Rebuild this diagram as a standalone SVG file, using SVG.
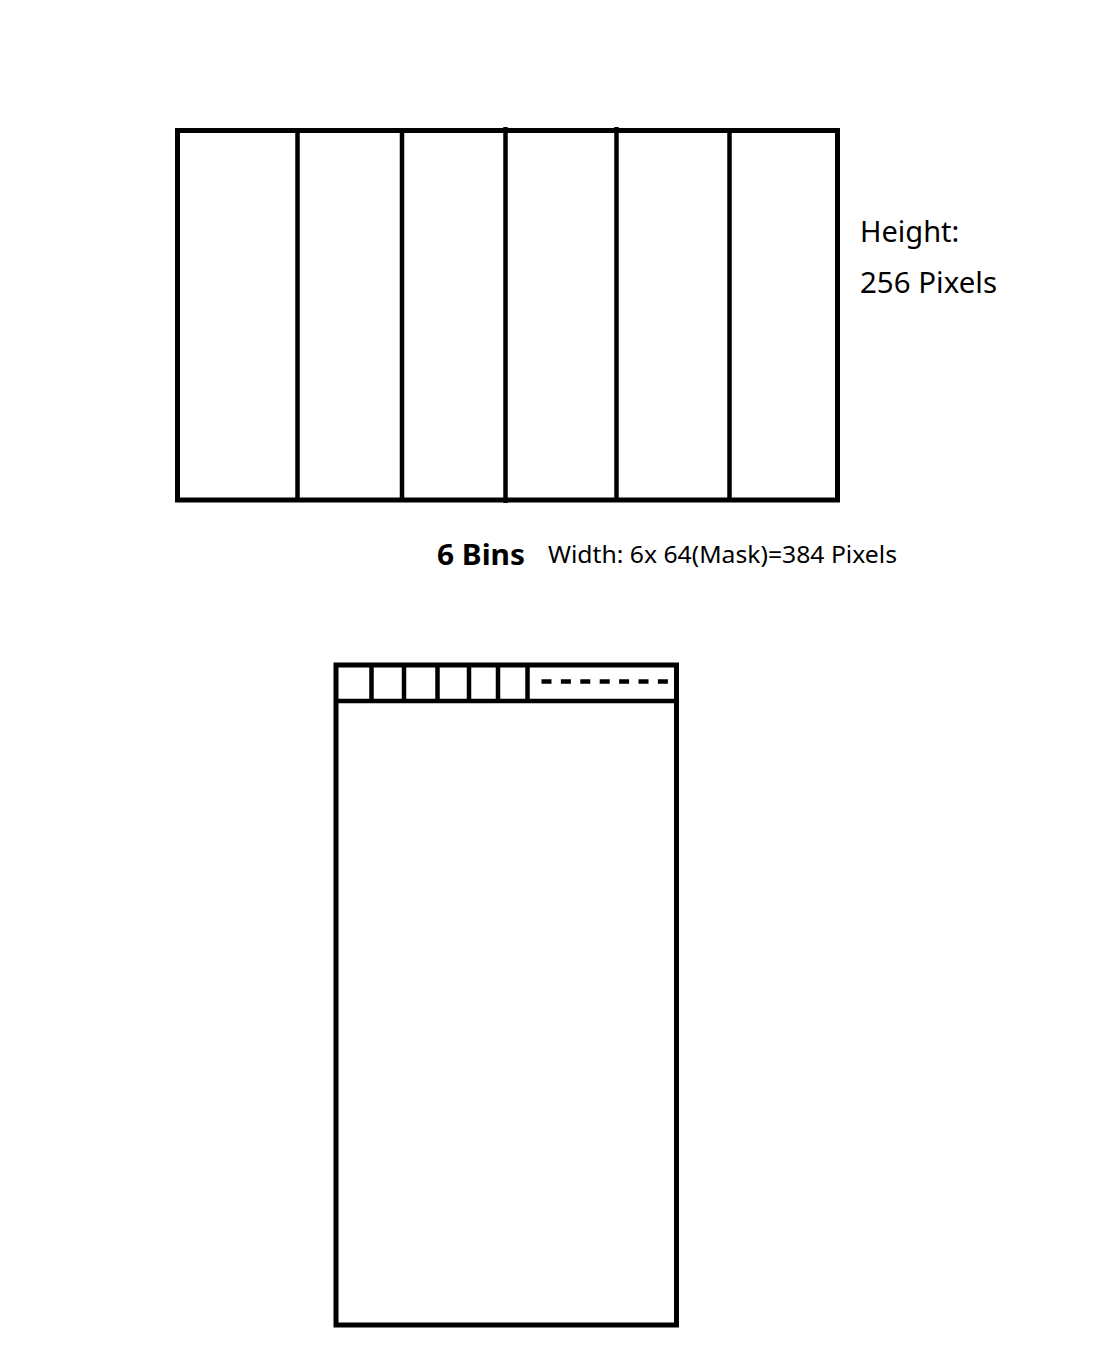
<svg xmlns="http://www.w3.org/2000/svg" width="1098" height="1347" viewBox="0 0 1098 1347">
<style>
.box{fill:none;stroke:#000;stroke-width:5}
.ln{stroke:#000;stroke-width:4.5;fill:none}
.t{font-family:"Noto Sans","Open Sans","Liberation Sans",sans-serif;fill:#000}
</style>
<rect width="1098" height="1347" fill="#fff"/>
<g id="bins-panel">
<rect class="box" x="177.5" y="130.5" width="660" height="369.5"/>
<line class="ln" x1="297.5" y1="130" x2="297.5" y2="500"/>
<line class="ln" x1="402" y1="130" x2="402" y2="500"/>
<line class="ln" x1="505.5" y1="127" x2="505.5" y2="503"/>
<line class="ln" x1="616.5" y1="127" x2="616.5" y2="500"/>
<line class="ln" x1="729.5" y1="130" x2="729.5" y2="500"/>
</g>
<g id="height-label">
<text class="t" x="860" y="242" font-size="29">Height:</text>
<text class="t" x="860" y="293" font-size="29" textLength="137" lengthAdjust="spacingAndGlyphs">256 Pixels</text>
</g>
<g id="bins-label">
<text class="t" x="437" y="565" font-size="29" font-weight="bold" textLength="88" lengthAdjust="spacingAndGlyphs">6 Bins</text>
</g>
<g id="width-label">
<text class="t" x="548" y="563" font-size="24" textLength="349" lengthAdjust="spacingAndGlyphs">Width: 6x 64(Mask)=384 Pixels</text>
</g>
<g id="mask-panel">
<rect class="box" x="336" y="665" width="340.5" height="660"/>
<line class="ln" x1="336" y1="701" x2="676.5" y2="701"/>
<line class="ln" x1="371.5" y1="665" x2="371.5" y2="701"/>
<line class="ln" x1="404" y1="665" x2="404" y2="701"/>
<line class="ln" x1="437.5" y1="665" x2="437.5" y2="701"/>
<line class="ln" x1="469" y1="665" x2="469" y2="701"/>
<line class="ln" x1="498" y1="665" x2="498" y2="701"/>
<line class="ln" x1="527.5" y1="665" x2="527.5" y2="701"/>
<line class="ln" x1="541.5" y1="681.5" x2="668" y2="681.5" stroke-width="4" stroke-dasharray="10 9.4"/>
</g>
</svg>
